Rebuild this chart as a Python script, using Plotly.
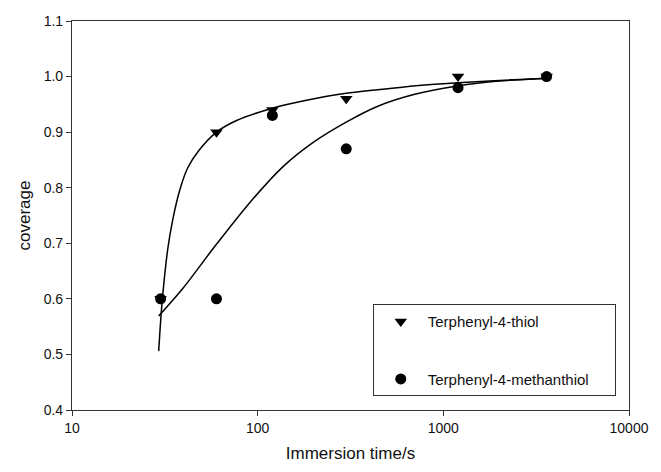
import plotly.graph_objects as go

# Measured data
time_s = [30, 60, 120, 300, 1200, 3600]
thiol = [0.60, 0.90, 0.94, 0.96, 1.00, 1.00]
methanthiol = [0.60, 0.60, 0.93, 0.87, 0.98, 1.00]

# Fitted curves
fit_thiol_t = [29.3, 30.5, 32.8, 35, 38, 41.9, 48, 60, 77, 120, 175, 300, 600, 900, 1200, 2000, 3700]
fit_thiol_c = [0.506, 0.59, 0.69, 0.745, 0.795, 0.835, 0.866, 0.90, 0.921, 0.943, 0.956, 0.970, 0.981, 0.986, 0.989, 0.993, 0.997]
fit_meth_t = [29.3, 39.8, 58, 89, 137, 200, 300, 447, 702, 1187, 2000, 3715]
fit_meth_c = [0.569, 0.62, 0.692, 0.77, 0.838, 0.882, 0.918, 0.947, 0.968, 0.983, 0.992, 0.997]

y_ticks = [0.4, 0.5, 0.6, 0.7, 0.8, 0.9, 1.0, 1.1]
x_ticks = [10, 100, 1000, 10000]

FONT = "Arial, Liberation Sans"

fig = go.Figure()
fig.add_trace(go.Scatter(x=fit_thiol_t, y=fit_thiol_c, mode="lines",
                         line=dict(color="black", width=1.5, shape="spline", smoothing=0.8),
                         showlegend=False, hoverinfo="skip"))
fig.add_trace(go.Scatter(x=fit_meth_t, y=fit_meth_c, mode="lines",
                         line=dict(color="black", width=1.5, shape="spline", smoothing=0.8),
                         showlegend=False, hoverinfo="skip"))
fig.add_trace(go.Scatter(x=time_s, y=thiol, mode="markers", name="Terphenyl-4-thiol",
                         legendgroup="a",
                         marker=dict(symbol="triangle-down", size=11, color="black")))
fig.add_trace(go.Scatter(x=time_s, y=methanthiol, mode="markers",
                         name="Terphenyl-4-methanthiol\u00a0\u00a0\u00a0\u00a0\u00a0",
                         legendgroup="b",
                         marker=dict(symbol="circle", size=11, color="black")))

axis_common = dict(showline=True, linecolor="#333", linewidth=1.2, mirror=True,
                   ticks="outside", ticklen=5, tickcolor="#333", showgrid=False,
                   zeroline=False, tickfont=dict(family=FONT, size=14, color="#111"))

fig.update_xaxes(type="log", range=[1, 4], tickvals=x_ticks, ticktext=[str(v) for v in x_ticks],
                 title=dict(text="Immersion time/s", font=dict(family=FONT, size=17, color="#111"), standoff=12),
                 **axis_common)
fig.update_yaxes(range=[0.4, 1.1], tickvals=y_ticks, ticktext=[f"{v:.1f}" for v in y_ticks],
                 title=dict(text="coverage", font=dict(family=FONT, size=17, color="#111"), standoff=8),
                 **axis_common)

fig.update_layout(
    width=661, height=472,
    margin=dict(l=72, r=24, t=21, b=58),
    paper_bgcolor="white", plot_bgcolor="white",
    font=dict(family=FONT, color="#111"),
    legend=dict(x=0.54, y=0.272, xanchor="left", yanchor="top",
                bordercolor="#333", borderwidth=1, bgcolor="white",
                itemwidth=44,
                tracegroupgap=35, font=dict(size=15, family=FONT, color="#111")),
)

fig.write_html("out.html")
